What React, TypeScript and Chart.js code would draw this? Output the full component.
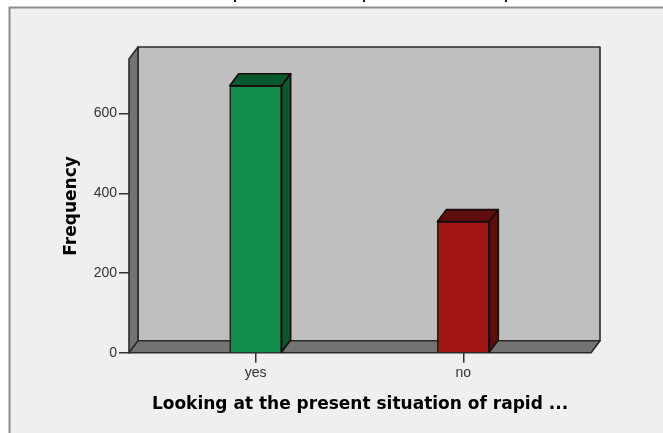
import React, { useEffect, useRef } from "react";
import { Chart, registerables } from "chart.js";

Chart.register(...registerables);

const categories = ["yes", "no"];
const frequencies = [670, 329];
const frontColors = ["#118c4a", "#a21616"];
const sideColors = ["#075a2d", "#5f0e0e"];
const yTicks = [0, 200, 400, 600];
const xTitle = "Looking at the present situation of rapid ...";
const yTitle = "Frequency";
const croppedTitleStems = [235, 364, 506];

const DEPTH_X = 9;
const DEPTH_Y = 12;
const EDGE = "#2b2b2b";

function poly(ctx: CanvasRenderingContext2D, pts: number[][], fill: string, stroke = EDGE, lw = 1.6) {
  ctx.beginPath();
  pts.forEach((p, i) => (i ? ctx.lineTo(p[0], p[1]) : ctx.moveTo(p[0], p[1])));
  ctx.closePath();
  ctx.fillStyle = fill;
  ctx.fill();
  ctx.lineWidth = lw;
  ctx.strokeStyle = stroke;
  ctx.lineJoin = "round";
  ctx.stroke();
}

const panelPlugin = {
  id: "panel",
  beforeDraw(chart: any) {
    const { ctx, width, height } = chart;
    ctx.save();
    ctx.fillStyle = "#ffffff";
    ctx.fillRect(0, 0, width, height);
    ctx.fillStyle = "#efefef";
    ctx.strokeStyle = "#8c8c8c";
    ctx.lineWidth = 2;
    ctx.fillRect(9.5, 7.5, width, height);
    ctx.strokeRect(9.5, 7.5, width + 10, height + 10);
    ctx.fillStyle = "#111111";
    croppedTitleStems.forEach((x) => ctx.fillRect(x - 1, 0, 2, 2));
    ctx.restore();
  },
};

const wallsPlugin = {
  id: "walls",
  beforeDatasetsDraw(chart: any) {
    const { ctx, chartArea: a } = chart;
    const { left: l, right: r, top: t, bottom: b } = a;
    ctx.save();
    poly(ctx, [[l + DEPTH_X, t - DEPTH_Y], [r + DEPTH_X, t - DEPTH_Y], [r + DEPTH_X, b - DEPTH_Y], [l + DEPTH_X, b - DEPTH_Y]], "#bfbfbf");
    poly(ctx, [[l, t], [l + DEPTH_X, t - DEPTH_Y], [l + DEPTH_X, b - DEPTH_Y], [l, b]], "#737373");
    poly(ctx, [[l, b], [l + DEPTH_X, b - DEPTH_Y], [r + DEPTH_X, b - DEPTH_Y], [r, b]], "#737373");
    ctx.restore();
  },
  afterDatasetsDraw(chart: any) {
    const { ctx } = chart;
    const bars = chart.getDatasetMeta(0).data;
    ctx.save();
    bars.forEach((bar: any, i: number) => {
      const half = bar.width / 2;
      const x0 = bar.x - half;
      const x1 = bar.x + half;
      const top = bar.y;
      const base = bar.base;
      poly(ctx, [[x0, top], [x0 + DEPTH_X, top - DEPTH_Y], [x1 + DEPTH_X, top - DEPTH_Y], [x1, top]], sideColors[i], "#1a0a0a");
      poly(ctx, [[x1, top], [x1 + DEPTH_X, top - DEPTH_Y], [x1 + DEPTH_X, base - DEPTH_Y], [x1, base]], sideColors[i], "#1a0a0a");
    });
    ctx.restore();
  },
};

export default function App() {
  const ref = useRef<HTMLCanvasElement>(null);
  useEffect(() => {
    const chart = new Chart(ref.current!, {
      type: "bar",
      data: {
        datasets: [
          {
            data: frequencies.map((y, x) => ({ x, y })),
            backgroundColor: frontColors,
            borderColor: "#1f1f1f",
            borderWidth: 1.6,
            barThickness: 52,
          },
        ],
      },
      plugins: [panelPlugin, wallsPlugin],
      options: {
        animation: false,
        responsive: false,
        layout: { padding: { left: 0, right: 72, top: 59, bottom: 0 } },
        plugins: { legend: { display: false }, tooltip: { enabled: false } },
        scales: {
          x: {
            type: "linear",
            offset: false,
            min: -0.61,
            max: 1.615,
            position: "bottom",
            afterBuildTicks: (s: any) => {
              s.ticks = categories.map((_, i) => ({ value: i }));
            },
            grid: { offset: false, drawOnChartArea: false, drawTicks: true, tickLength: 10, color: "#333333", lineWidth: 1.5 },
            border: { display: false },
            ticks: {
              autoSkip: false,
              maxRotation: 0,
              padding: 2,
              color: "#333333",
              font: { family: "'Liberation Sans'", size: 14 },
              callback: (v: any) => categories[v],
            },
            title: {
              display: true,
              text: xTitle,
              color: "#000000",
              font: { family: "'DejaVu Sans'", weight: "bold", size: 17 },
              padding: { top: 11, bottom: 18 },
            },
          },
          y: {
            type: "linear",
            min: 0,
            max: 737,
            afterBuildTicks: (s: any) => {
              s.ticks = yTicks.map((value) => ({ value }));
            },
            grid: { drawOnChartArea: false, drawTicks: true, tickLength: 10, color: "#333333", lineWidth: 1.5 },
            border: { display: false },
            ticks: {
              padding: 2,
              color: "#333333",
              font: { family: "'Liberation Sans'", size: 14 },
            },
            title: {
              display: true,
              text: yTitle,
              color: "#000000",
              font: { family: "'DejaVu Sans'", weight: "bold", size: 17 },
              padding: { top: 61, bottom: 0 },
            },
            afterFit: (s: any) => {
              s.width = 129;
            },
          },
        },
      },
    } as any);
    return () => chart.destroy();
  }, []);
  return <canvas ref={ref} width={663} height={433} style={{ position: "fixed", left: 0, top: 0, display: "block" }} />;
}
